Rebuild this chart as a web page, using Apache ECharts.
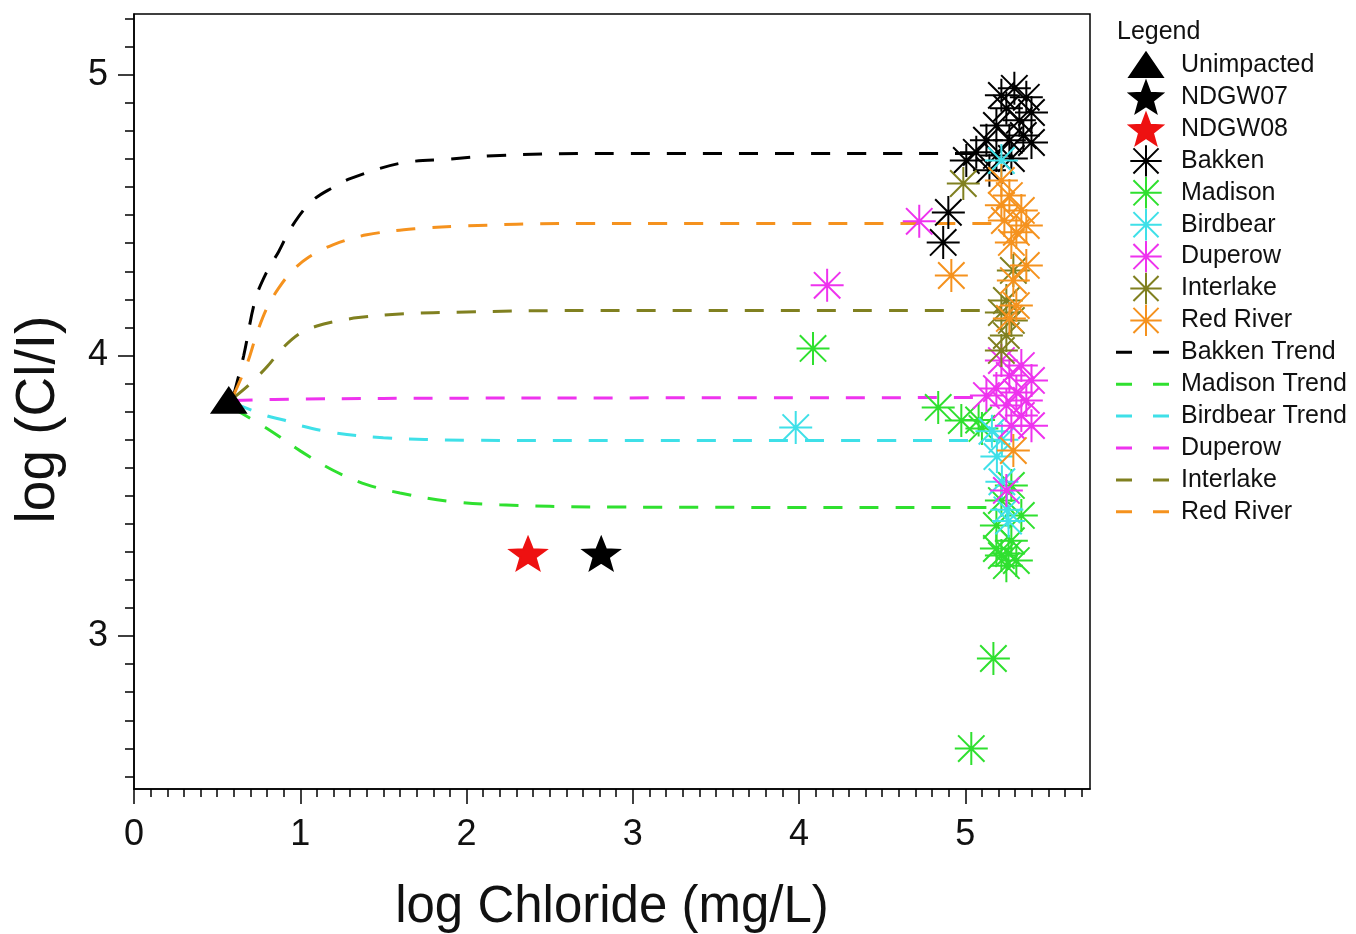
<!DOCTYPE html>
<html>
<head>
<meta charset="utf-8">
<script src="https://cdn.jsdelivr.net/npm/echarts@6/dist/echarts.min.js"></script>
<style>
  html, body { margin: 0; padding: 0; background: #fff; }
  #chart { width: 1356px; height: 934px; }
</style>
</head>
<body>
<div id="chart"></div>
<script>
// ---- data: [log Chloride (mg/L), log (Cl/I)] ----
const unimpacted = [[0.57, 3.84]];
const ndgw07 = [[2.81, 3.294]];
const ndgw08 = [[2.37, 3.294]];

const bakken = [
  [5.295, 4.952], [5.217, 4.927], [5.367, 4.920], [5.247, 4.881], [5.398, 4.866],
  [5.325, 4.838], [5.187, 4.820], [5.349, 4.784], [5.265, 4.767], [5.127, 4.767],
  [5.398, 4.759], [5.066, 4.724], [5.187, 4.713], [5.277, 4.702], [5.006, 4.695],
  [5.145, 4.660], [4.898, 4.510], [4.867, 4.403]
];
const madison = [
  [4.084, 4.025], [4.837, 3.815], [4.976, 3.768], [5.080, 3.770], [5.100, 3.740],
  [5.277, 3.537], [5.217, 3.483], [5.337, 3.430], [5.187, 3.394], [5.277, 3.340],
  [5.187, 3.312], [5.217, 3.287], [5.307, 3.269], [5.247, 3.251], [5.260, 3.294],
  [5.169, 2.920], [5.036, 2.599]
];
const birdbear = [
  [5.217, 4.695], [3.980, 3.743], [5.160, 3.730], [5.220, 3.700], [5.190, 3.640],
  [5.220, 3.550], [5.250, 3.450], [5.260, 3.410]
];
const duperow = [
  [4.723, 4.478], [4.169, 4.250], [5.217, 3.982], [5.337, 3.964], [5.265, 3.929],
  [5.398, 3.911], [5.187, 3.882], [5.307, 3.868], [5.127, 3.857], [5.367, 3.840],
  [5.247, 3.822], [5.337, 3.786], [5.398, 3.750], [5.277, 3.750], [5.247, 3.519]
];
const interlake = [
  [4.988, 4.613], [5.289, 4.303], [5.247, 4.196], [5.217, 4.153], [5.277, 4.125],
  [5.247, 4.071], [5.217, 4.018]
];
const redRiver = [
  [5.217, 4.624], [5.265, 4.570], [5.217, 4.535], [5.337, 4.517], [5.235, 4.481],
  [5.367, 4.463], [5.307, 4.439], [5.277, 4.403], [5.367, 4.321], [5.289, 4.267],
  [5.307, 4.178], [5.265, 4.132], [5.289, 3.661], [4.916, 4.285]
];

// mixing trends from the unimpacted end-member
const bakkenTrend = [
  [0.60, 3.86], [0.66, 4.00], [0.73, 4.20], [0.80, 4.30], [0.87, 4.37], [0.95, 4.46],
  [1.07, 4.55], [1.20, 4.60], [1.30, 4.63], [1.60, 4.685], [1.90, 4.70], [2.20, 4.713],
  [2.80, 4.72], [5.20, 4.72]
];
const madisonTrend = [
  [0.60, 3.81], [0.80, 3.74], [1.00, 3.66], [1.20, 3.59], [1.40, 3.54], [1.60, 3.51],
  [1.90, 3.48], [2.20, 3.468], [2.80, 3.46], [5.20, 3.458]
];
const birdbearTrend = [
  [0.60, 3.83], [0.80, 3.785], [0.90, 3.77], [1.00, 3.75], [1.20, 3.725], [1.50, 3.707],
  [2.00, 3.698], [2.80, 3.697], [5.20, 3.697]
];
const duperowTrend = [
  [0.60, 3.84], [1.00, 3.845], [2.00, 3.848], [5.15, 3.85]
];
const interlakeTrend = [
  [0.60, 3.85], [0.70, 3.90], [0.80, 3.96], [0.90, 4.03], [1.00, 4.08], [1.10, 4.105],
  [1.20, 4.12], [1.35, 4.135], [1.60, 4.148], [2.00, 4.155], [2.60, 4.16], [5.20, 4.16]
];
const redRiverTrend = [
  [0.60, 3.86], [0.68, 3.97], [0.74, 4.08], [0.80, 4.17], [0.87, 4.24], [0.95, 4.30],
  [1.05, 4.35], [1.20, 4.395], [1.40, 4.43], [1.70, 4.452], [2.00, 4.462], [2.60, 4.47],
  [5.24, 4.47]
];

// tick labels
const xMajorTicks = [0, 1, 2, 3, 4, 5];
const yMajorTicks = [3, 4, 5];

// ---- styling ----
const FONT = "'Liberation Sans', Arial, sans-serif";
const COLORS = {
  black: '#000000',
  green: '#2fe02f',
  cyan: '#3fe0e8',
  magenta: '#ee33ee',
  olive: '#808020',
  orange: '#f5921e',
  red: '#ee1111'
};

const ASTERISK = 'path://M0,10L20,10M10,0L10,20M2,2L18,18M2,18L18,2';
const TRIANGLE = 'path://M0,26L15,0L30,26Z';
const TRIANGLE_ICON = 'path://M0,0M36,32M1,28L18,3L35,28Z';
// two-dash legend key for the trend lines (full-height box keeps rows even)
const DASH_ICON = 'path://M0,0M60,31.4M1,15.2L15,15.2L15,16.2L1,16.2ZM38,15.2L52,15.2L52,16.2L38,16.2Z';

function starPath(inner) {
  let d = '';
  for (let k = 0; k < 10; k++) {
    const r = k % 2 === 0 ? 10 : 10 * inner;
    const a = (-90 + k * 36) * Math.PI / 180;
    const x = (10 + r * Math.cos(a)).toFixed(3);
    const y = (10 + r * Math.sin(a)).toFixed(3);
    d += (k === 0 ? 'M' : 'L') + x + ',' + y;
  }
  return 'path://' + d + 'Z';
}
const STAR = starPath(0.42);

// minor tick positions every 0.1
const xMinorTicks = [];
for (let i = 0; i <= 57; i++) xMinorTicks.push(i / 10);
const yMinorTicks = [];
for (let i = 25; i <= 52; i++) yMinorTicks.push(i / 10);

function markerSeries(name, data, color, symbol, size) {
  return {
    name, type: 'scatter', data,
    symbol, symbolSize: size, symbolKeepAspect: true,
    itemStyle: { color, borderColor: color, borderWidth: 2, opacity: 1 },
    emphasis: { disabled: true },
    z: 3
  };
}
function trendSeries(name, data, color) {
  return {
    name, type: 'line', data,
    smooth: 0.35, symbol: 'none',
    lineStyle: { color, width: 3, type: [19, 17] },
    itemStyle: { color },
    emphasis: { disabled: true },
    z: 2
  };
}
function dashKey(name, color) {
  return { name, icon: DASH_ICON, itemStyle: { color, borderColor: color, borderWidth: 2 } };
}

const series = [
  trendSeries('Bakken Trend', bakkenTrend, COLORS.black),
  trendSeries('Madison Trend', madisonTrend, COLORS.green),
  trendSeries('Birdbear Trend', birdbearTrend, COLORS.cyan),
  trendSeries('Duperow Trend', duperowTrend, COLORS.magenta),
  trendSeries('Interlake Trend', interlakeTrend, COLORS.olive),
  trendSeries('Red River Trend', redRiverTrend, COLORS.orange),
  markerSeries('Bakken', bakken, COLORS.black, ASTERISK, 33),
  markerSeries('Madison', madison, COLORS.green, ASTERISK, 33),
  markerSeries('Birdbear', birdbear, COLORS.cyan, ASTERISK, 33),
  markerSeries('Duperow', duperow, COLORS.magenta, ASTERISK, 33),
  markerSeries('Interlake', interlake, COLORS.olive, ASTERISK, 33),
  markerSeries('Red River', redRiver, COLORS.orange, ASTERISK, 33),
  markerSeries('NDGW07', ndgw07, COLORS.black, STAR, [36, 34]),
  markerSeries('NDGW08', ndgw08, COLORS.red, STAR, [36, 34]),
  markerSeries('Unimpacted', unimpacted, COLORS.black, TRIANGLE, [34, 29])
];

// legend text for the last three trend lines carries only the formation name
const legendLabels = {
  'Duperow Trend': 'Duperow',
  'Interlake Trend': 'Interlake',
  'Red River Trend': 'Red River'
};

const axisLineStyle = { color: '#000', width: 1.5 };

const option = {
  animation: false,
  backgroundColor: '#ffffff',
  textStyle: { fontFamily: FONT },
  title: {
    text: 'Legend', left: 1117, top: 20, padding: 0,
    textStyle: { fontFamily: FONT, fontSize: 25, fontWeight: 'normal', color: '#111' }
  },
  legend: {
    orient: 'vertical', left: 1115, top: 48.5, padding: 0,
    itemWidth: 60, itemHeight: 31.4, itemGap: -1.5,
    selectedMode: false,
    textStyle: { fontFamily: FONT, fontSize: 25, color: '#111', lineHeight: 26 },
    formatter: name => legendLabels[name] || name,
    data: [
      { name: 'Unimpacted', icon: TRIANGLE_ICON },
      'NDGW07', 'NDGW08',
      'Bakken', 'Madison', 'Birdbear', 'Duperow', 'Interlake', 'Red River',
      dashKey('Bakken Trend', COLORS.black),
      dashKey('Madison Trend', COLORS.green),
      dashKey('Birdbear Trend', COLORS.cyan),
      dashKey('Duperow Trend', COLORS.magenta),
      dashKey('Interlake Trend', COLORS.olive),
      dashKey('Red River Trend', COLORS.orange)
    ]
  },
  grid: {
    left: 134, right: 266, top: 14, bottom: 145,
    outerBoundsMode: 'none',
    show: true, borderColor: '#000', borderWidth: 1.5, backgroundColor: 'transparent'
  },
  xAxis: [
    {
      type: 'value', min: 0, max: 5.75, position: 'bottom',
      name: 'log Chloride (mg/L)', nameLocation: 'middle', nameGap: 93,
      nameTextStyle: { fontFamily: FONT, fontSize: 51, color: '#111' },
      axisLine: { show: true, onZero: false, lineStyle: axisLineStyle },
      axisTick: { show: true, inside: false, length: 15, customValues: xMajorTicks, lineStyle: axisLineStyle },
      axisLabel: { customValues: xMajorTicks, fontFamily: FONT, fontSize: 36, color: '#111', margin: 28 },
      splitLine: { show: false }
    },
    {
      type: 'value', min: 0, max: 5.75, position: 'bottom',
      axisLine: { show: false },
      axisTick: { show: true, inside: false, length: 8, customValues: xMinorTicks, lineStyle: axisLineStyle },
      axisLabel: { show: false },
      splitLine: { show: false }
    }
  ],
  yAxis: [
    {
      type: 'value', min: 2.455, max: 5.217, position: 'left',
      name: 'log (Cl/I)', nameLocation: 'middle', nameGap: 68, nameRotate: 90,
      nameTextStyle: { fontFamily: FONT, fontSize: 55, color: '#111', padding: [0, 36, 0, 0] },
      axisLine: { show: true, onZero: false, lineStyle: axisLineStyle },
      axisTick: { show: true, inside: false, length: 16, customValues: yMajorTicks, lineStyle: axisLineStyle },
      axisLabel: { customValues: yMajorTicks, fontFamily: FONT, fontSize: 36, color: '#111', margin: 26 },
      splitLine: { show: false }
    },
    {
      type: 'value', min: 2.455, max: 5.217, position: 'left',
      axisLine: { show: false },
      axisTick: { show: true, inside: false, length: 9, customValues: yMinorTicks, lineStyle: axisLineStyle },
      axisLabel: { show: false },
      splitLine: { show: false }
    }
  ],
  series
};

const chart = echarts.init(document.getElementById('chart'), null, { renderer: 'canvas' });
chart.setOption(option);
</script>
</body>
</html>
